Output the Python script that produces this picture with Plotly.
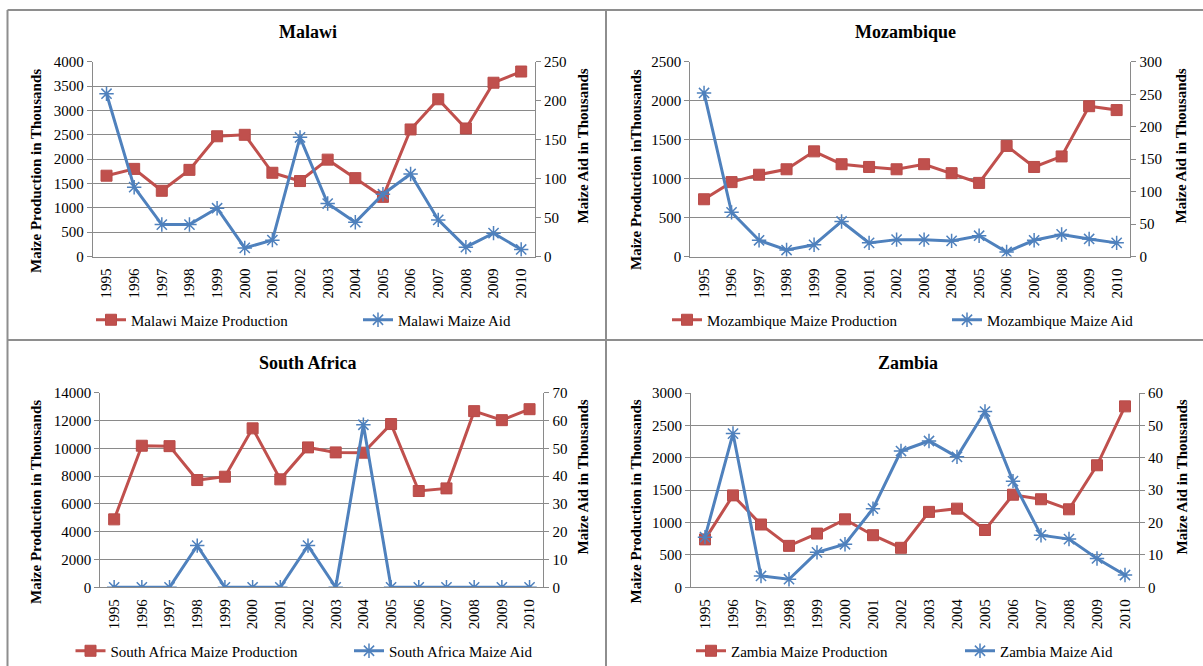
import plotly.graph_objects as go

W, H = 1203, 666

years = list(range(1995, 2011))
year_labels = [str(y) for y in years]

countries = ["Malawi", "Mozambique", "South Africa", "Zambia"]

malawi_production = [1660, 1800, 1350, 1780, 2470, 2500, 1720, 1550, 1990, 1610, 1225, 2610, 3230, 2630, 3570, 3800]
malawi_aid = [209, 89, 41, 41, 62, 11, 21, 153, 68, 44, 80, 106, 47, 12, 30, 9]

mozambique_production = [735, 955, 1050, 1120, 1350, 1185, 1150, 1120, 1185, 1070, 945, 1420, 1150, 1285, 1930, 1880]
mozambique_aid = [252, 68, 25, 10, 18, 54, 21, 26, 26, 24, 32, 7, 25, 34, 27, 21]

south_africa_production = [4890, 10190, 10160, 7720, 7960, 11440, 7770, 10070, 9710, 9690, 11750, 6930, 7120, 12680, 12030, 12820]
south_africa_aid = [0, 0, 0, 15, 0, 0, 0, 15, 0, 58.5, 0, 0, 0, 0, 0, 0]

zambia_production = [740, 1420, 970, 640, 830, 1050, 805, 610, 1165, 1215, 885, 1430, 1360, 1205, 1885, 2795]
zambia_aid = [15.5, 47.5, 3.5, 2.5, 10.8, 13.3, 24.3, 42.1, 45.2, 40.3, 54.3, 32.8, 16.1, 14.9, 8.9, 3.8]

production = [malawi_production, mozambique_production, south_africa_production, zambia_production]
aid = [malawi_aid, mozambique_aid, south_africa_aid, zambia_aid]

left_ranges = [(4000, 500), (2500, 500), (14000, 2000), (3000, 500)]
right_ranges = [(250, 50), (300, 50), (70, 10), (60, 10)]
left_titles = [
    "Maize Production in Thousands",
    "Maize Production inThousands",
    "Maize Production in Thousands",
    "Maize Production in Thousands",
]
right_title = "Maize Aid in Thousands"

# panel geometry in pixels
panels = [
    dict(plot=(92.7, 535, 61.7, 256.5), title=(308, 31.7), leg=(96, 320), gap=267, lt=(36, 67), rt=(582, 67)),
    dict(plot=(690.3, 1130.4, 61.7, 256.5), title=(906, 31.7), leg=(672, 320), gap=280, lt=(635.5, 67), rt=(1180, 67)),
    dict(plot=(100.3, 543.4, 392.7, 587.3), title=(308, 363), leg=(75.5, 651), gap=278.5, lt=(36, 398), rt=(582, 398)),
    dict(plot=(691, 1139, 393, 587.3), title=(908, 363), leg=(696, 651), gap=269, lt=(635.5, 398), rt=(1181, 398)),
]

RED = "#C0504D"
BLUE = "#4F81BD"
GRID = "#8A8A8A"
FONT = "Liberation Serif"

def px(x):
    return x / W

def py(y):
    return 1 - y / H

fig = go.Figure()
layout = dict(
    width=W, height=H, autosize=False,
    margin=dict(l=0, r=0, t=0, b=0, autoexpand=False),
    paper_bgcolor="white", plot_bgcolor="white",
    font=dict(family=FONT, size=15, color="black"),
    showlegend=True,
    annotations=[], shapes=[],
)

for k, name in enumerate(countries):
    p = panels[k]
    xid = "x" if k == 0 else f"x{k + 1}"
    yl = 2 * k + 1
    yr = 2 * k + 2
    ylid = "y" if yl == 1 else f"y{yl}"
    yrid = f"y{yr}"
    leg = "legend" if k == 0 else f"legend{k + 1}"

    fig.add_trace(go.Scatter(
        x=years, y=production[k], name=f"{name} Maize Production",
        xaxis=xid, yaxis=ylid, legend=leg, legendwidth=p["gap"] - 45,
        mode="lines+markers",
        line=dict(color=RED, width=3),
        marker=dict(symbol="square", size=11, color=RED, line=dict(color="#B84B48", width=1)),
    ))
    fig.add_trace(go.Scatter(
        x=years, y=aid[k], name=f"{name} Maize Aid",
        xaxis=xid, yaxis=yrid, legend=leg, mode="lines+markers",
        line=dict(color=BLUE, width=3),
        marker=dict(symbol="asterisk-open", size=12, color=BLUE, line=dict(color=BLUE, width=1.5)),
    ))

    x0, x1, y0, y1 = p["plot"]
    xa = "xaxis" if k == 0 else f"xaxis{k + 1}"
    layout[xa] = dict(
        domain=[px(x0), px(x1)], anchor=ylid, range=[1994.5, 2010.5],
        tickmode="array", tickvals=years, ticktext=year_labels, tickangle=-90,
        showgrid=False, zeroline=False, showline=True, linecolor=GRID, linewidth=1,
        ticks="", ticklabelstandoff=5, tickfont=dict(size=15, family=FONT, color="black"),
        fixedrange=True,
    )
    lmax, ldt = left_ranges[k]
    rmax, rdt = right_ranges[k]
    layout["yaxis" if yl == 1 else f"yaxis{yl}"] = dict(
        domain=[py(y1), py(y0)], anchor=xid, range=[0, lmax * 1.0005], dtick=ldt, tick0=0,
        tickformat="d",
        showgrid=True, gridcolor=GRID, gridwidth=1, zeroline=False,
        showline=True, linecolor=GRID, linewidth=1, ticks="outside", ticklen=5, tickcolor=GRID,
        tickfont=dict(size=15, family=FONT, color="black"), fixedrange=True,
    )
    layout[f"yaxis{yr}"] = dict(
        domain=[py(y1), py(y0)], anchor=xid, overlaying=ylid, side="right",
        range=[0, rmax * 1.0005], dtick=rdt, tick0=0, tickformat="d",
        showgrid=False, zeroline=False, showline=True, linecolor=GRID, linewidth=1,
        ticks="outside", ticklen=5, tickcolor=GRID,
        tickfont=dict(size=15, family=FONT, color="black"), fixedrange=True,
    )

    lx, ly = p["leg"]
    layout[leg] = dict(
        orientation="h", x=px(lx - 5), xanchor="left", y=py(ly), yanchor="middle",
        font=dict(size=15, family=FONT, color="black"), bgcolor="rgba(0,0,0,0)",
        itemwidth=30, borderwidth=0, tracegroupgap=0,
    )

    tx, ty = p["title"]
    layout["annotations"].append(dict(
        text=f"<b>{name}</b>", x=px(tx), y=py(ty), xref="paper", yref="paper",
        xanchor="center", yanchor="middle", showarrow=False,
        font=dict(size=18, family=FONT, color="black"),
    ))
    ltx, lty = p["lt"]
    layout["annotations"].append(dict(
        text=f"<b>{left_titles[k]}</b>", x=px(ltx), y=py(lty), xref="paper", yref="paper",
        xanchor="center", yanchor="top", showarrow=False, textangle=-90,
        font=dict(size=15, family=FONT, color="black"),
    ))
    rtx, rty = p["rt"]
    layout["annotations"].append(dict(
        text=f"<b>{right_title}</b>", x=px(rtx), y=py(rty), xref="paper", yref="paper",
        xanchor="center", yanchor="top", showarrow=False, textangle=-90,
        font=dict(size=15, family=FONT, color="black"),
    ))

# chart frames
frame = dict(type="line", xref="paper", yref="paper", line=dict(color="#8E8E8E", width=2))
layout["shapes"] = [
    dict(frame, x0=px(7.5), x1=1, y0=py(10), y1=py(10)),
    dict(frame, x0=px(7.5), x1=px(7.5), y0=py(10), y1=0),
    dict(frame, x0=px(606), x1=px(606), y0=py(10), y1=0),
    dict(frame, x0=px(7.5), x1=1, y0=py(340), y1=py(340)),
]

fig.update_layout(**layout)
fig.write_html("out.html")
